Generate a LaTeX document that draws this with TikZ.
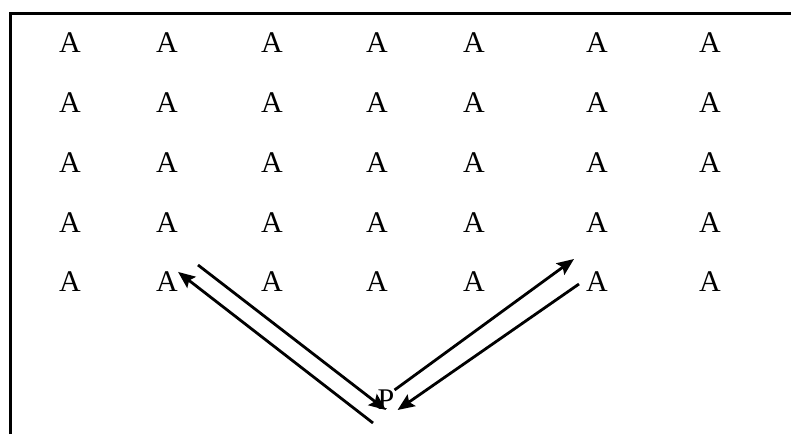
\documentclass[tikz,border=0pt]{standalone}
\usepackage{fontspec}
\setmainfont{Liberation Serif}
\usetikzlibrary{arrows.meta}
\begin{document}
\begin{tikzpicture}[x=1pt,y=-1pt]
 \tikzstyle{letter}=[inner sep=0pt,font=\fontsize{30}{30}\selectfont];
    \tikzstyle{ray}=[line width=2.8pt,-{Stealth[length=17pt,width=14pt,inset=3pt]}];
    \useasboundingbox (0,0) rectangle (791,434);
    % frame, open at right and bottom
    \draw[line width=3pt] (10.5,434) -- (10.5,13) -- (791,13);
    % grid of A's
    \foreach \x [count=\i] in {70,167,272,377,474,597,710}
      \foreach \y [count=\j] in {43,103,163,223,282}
        \node[letter] (a\i\j) at (\x,\y) {A};
    \node[letter] at (386, 400) (p) {P};
    \coordinate (c1) at (198,265);
    \coordinate (c2) at (373,423);
    \coordinate (c3) at (574,259);
    \coordinate (c4) at (579,284);
    \draw[ray] (c1) -- (p.south);
    \draw[ray] (c2) -- (a25.north east);
    \draw[ray] (p.north east) -- (c3);
    \draw[ray] (c4) -- ([xshift=3pt]p.south east);
\end{tikzpicture}
\end{document}
